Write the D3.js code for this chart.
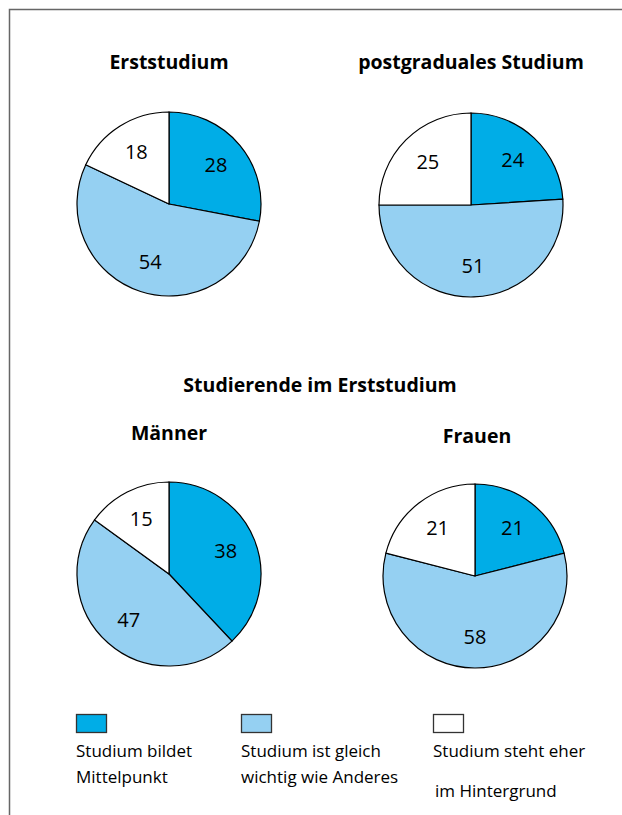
<!DOCTYPE html>
<html><head><meta charset="utf-8">
<script src="https://cdn.jsdelivr.net/npm/d3@7"></script>
<style>body{margin:0;background:#fff}svg{display:block}</style>
</head><body>
<script>
const categories = ["Studium bildet Mittelpunkt", "Studium ist gleich wichtig wie Anderes", "Studium steht eher im Hintergrund"];
const chartTitles = ["Erststudium", "postgraduales Studium", "Männer", "Frauen"];
const sectionTitle = "Studierende im Erststudium";
const erststudium = [28, 54, 18];
const postgradual = [24, 51, 25];
const maenner = [38, 47, 15];
const frauen = [21, 58, 21];
const legendLines = [["Studium bildet", "Mittelpunkt"], ["Studium ist gleich", "wichtig wie Anderes"], ["Studium steht eher", "im Hintergrund"]];

const W = 622, H = 815;
const font = "'Open Sans', sans-serif";
const svg = d3.select("body").append("svg").attr("width", W).attr("height", H);

// frame
svg.append("path").attr("d", `M${9.5},${H} V${9.5} H${W}`).attr("fill", "none").attr("stroke", "#666").attr("stroke-width", 1.5);

const color = d3.scaleOrdinal().domain(categories).range(["#00ade7", "#95d0f2", "#ffffff"]);
const pie = d3.pie().sort(null).value(d => d.v);
const R = 92;
const arc = d3.arc().innerRadius(0).outerRadius(R);
const labelArc = d3.arc().innerRadius(61).outerRadius(61);

const charts = [
  {title: chartTitles[0], data: erststudium, cx: 169, cy: 204, tx: 169, ty: 69},
  {title: chartTitles[1], data: postgradual, cx: 471, cy: 205, tx: 471, ty: 69},
  {title: chartTitles[2], data: maenner, cx: 169, cy: 574, tx: 169, ty: 440},
  {title: chartTitles[3], data: frauen, cx: 475, cy: 576, tx: 477, ty: 443}
];

charts.forEach(c => {
  svg.append("text").attr("x", c.tx).attr("y", c.ty).attr("text-anchor", "middle")
    .attr("font-family", font).attr("font-weight", "bold").attr("font-size", 19.5).attr("fill", "#000").text(c.title);
  const g = svg.append("g").attr("transform", `translate(${c.cx},${c.cy})`);
  const arcs = pie(c.data.map((v, i) => ({k: categories[i], v})));
  g.selectAll("path").data(arcs).join("path").attr("d", arc)
    .attr("fill", d => color(d.data.k)).attr("stroke", "#000").attr("stroke-width", 1.2);
  g.selectAll("text").data(arcs).join("text")
    .attr("transform", d => `translate(${labelArc.centroid(d)})`)
    .attr("text-anchor", "middle").attr("dy", "0.34em")
    .attr("font-family", font).attr("font-size", 20).attr("fill", "#000")
    .text(d => d.data.v);
});

svg.append("text").attr("x", 320).attr("y", 392).attr("text-anchor", "middle")
  .attr("font-family", font).attr("font-weight", "bold").attr("font-size", 19.5).attr("fill", "#000").text(sectionTitle);

// legend
const lx = [76, 241, 433];
const ly2 = [783, 783, 797];
categories.forEach((k, i) => {
  svg.append("rect").attr("x", lx[i] + 0.5).attr("y", 714.5).attr("width", 30).attr("height", 18)
    .attr("fill", color(k)).attr("stroke", "#333").attr("stroke-width", 1.3);
  svg.append("text").attr("x", lx[i]).attr("y", 757).attr("font-family", font).attr("font-size", 17).attr("fill", "#000").text(legendLines[i][0]);
  svg.append("text").attr("x", lx[i] + (i === 2 ? 2 : 0)).attr("y", ly2[i]).attr("font-family", font).attr("font-size", 17).attr("fill", "#000").text(legendLines[i][1]);
});
</script>
</body></html>
